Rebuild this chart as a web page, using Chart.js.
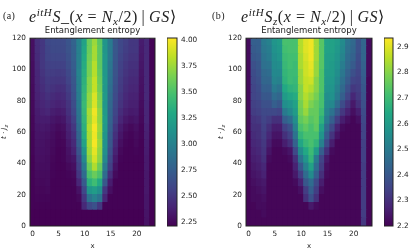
<!DOCTYPE html>
<html>
<head>
<meta charset="utf-8">
<script src="https://cdn.jsdelivr.net/npm/chart.js@4"></script>
<style>
  html, body { margin: 0; background: #fff; overflow: hidden; }
  #page { position: relative; width: 415px; height: 250px; filter: blur(0.4px); }
  canvas { position: absolute; }
  .math { position: absolute; font-family: "Liberation Serif", serif; font-size: 16px; letter-spacing: 0.55px; color: #222; white-space: nowrap; line-height: 20px; }
  .math sup { font-size: 11px; line-height: 0; vertical-align: 6px; }
  .math sub { font-size: 11px; line-height: 0; vertical-align: -3px; }
  .tag { position: absolute; font-family: "Liberation Serif", serif; font-size: 10px; letter-spacing: 0.4px; color: #222; }
  .ylab { position: absolute; font-family: "DejaVu Sans", sans-serif; font-size: 7px; color: #222; transform: rotate(-90deg); transform-origin: center; white-space: nowrap; font-style: italic; }
  .ylab sub { font-size: 5px; line-height: 0; }
</style>
</head>
<body>
<div id="page">
  <div class="tag" style="left:3px;top:10px">(a)</div>
  <div class="math" style="left:29px;top:7px"><i>e<sup>itH</sup>S</i>_(<i>x</i> = <i>N<sub>x</sub></i>/2)&#8201;|&#8201;<i>GS</i>⟩</div>
  <div class="ylab" style="left:-3px;top:128px">t · J<sub>z</sub></div>
  <canvas id="plotA"></canvas>
  <canvas id="barA"></canvas>
  <div class="tag" style="left:212px;top:10px">(b)</div>
  <div class="math" style="left:241px;top:7px"><i>e<sup>itH</sup>S<sub>z</sub></i>(<i>x</i> = <i>N<sub>x</sub></i>/2)&#8201;|&#8201;<i>GS</i>⟩</div>
  <div class="ylab" style="left:214px;top:128px">t · J<sub>z</sub></div>
  <canvas id="plotB"></canvas>
  <canvas id="barB"></canvas>
</div>
<script>
// Axis values
const sites = ['0','1','2','3','4','5','6','7','8','9','10','11','12','13','14','15','16','17','18','19','20','21','22','23'];
const timeStarts = [0,5,10,15,20,25,30,35,40,45,50,55,60,65,70,75,80,85,90,95,100,105,110,115];
const rowSpan = 5;
const timeTicks = [0,20,40,60,80,100,120];
const siteTicks = [0,5,10,15,20];
const ticksBarA = [2.25,2.5,2.75,3,3.25,3.5,3.75,4];
const ticksBarB = [2.2,2.3,2.4,2.5,2.6,2.7,2.8,2.9];

// Panel (a) entropy, one list per time row
const a000 = [2.21,2.21,2.21,2.21,2.21,2.21,2.21,2.21,2.21,2.21,2.21,2.21,2.21,2.21,2.21,2.21,2.21,2.21,2.21,2.21,2.21,2.21,2.3,2.21];
const a005 = [2.21,2.21,2.21,2.21,2.21,2.21,2.21,2.21,2.21,2.21,2.21,2.21,2.21,2.21,2.21,2.21,2.21,2.21,2.21,2.21,2.21,2.21,2.31,2.21];
const a010 = [2.22,2.22,2.22,2.22,2.22,2.22,2.22,2.22,2.22,2.22,2.42,2.6,2.66,2.5,2.22,2.22,2.22,2.22,2.22,2.22,2.22,2.22,2.32,2.21];
const a015 = [2.22,2.23,2.23,2.23,2.22,2.22,2.22,2.22,2.22,2.25,2.5,2.9,3,2.9,2.4,2.22,2.22,2.22,2.22,2.22,2.22,2.22,2.32,2.21];
const a020 = [2.22,2.24,2.24,2.25,2.22,2.22,2.22,2.22,2.22,2.3,2.6,3.15,3.2,3.1,2.5,2.28,2.22,2.22,2.22,2.22,2.22,2.22,2.33,2.21];
const a025 = [2.22,2.25,2.25,2.26,2.22,2.22,2.22,2.22,2.23,2.4,2.72,3.35,3.45,3.3,2.7,2.35,2.22,2.22,2.22,2.22,2.22,2.22,2.33,2.21];
const a030 = [2.22,2.26,2.26,2.26,2.23,2.22,2.22,2.23,2.25,2.5,2.85,3.5,3.6,3.5,2.85,2.45,2.26,2.22,2.22,2.22,2.22,2.22,2.33,2.21];
const a035 = [2.22,2.27,2.27,2.27,2.23,2.22,2.22,2.25,2.28,2.55,2.95,3.6,3.8,3.6,2.95,2.55,2.3,2.22,2.22,2.22,2.22,2.22,2.34,2.21];
const a040 = [2.22,2.28,2.28,2.27,2.24,2.22,2.23,2.28,2.32,2.6,3.05,3.7,3.9,3.7,3.05,2.6,2.34,2.23,2.22,2.22,2.22,2.22,2.34,2.21];
const a045 = [2.23,2.29,2.29,2.28,2.25,2.22,2.23,2.3,2.38,2.68,3.15,3.75,3.95,3.72,3.1,2.65,2.38,2.25,2.22,2.22,2.23,2.22,2.35,2.21];
const a050 = [2.23,2.3,2.3,2.28,2.26,2.23,2.24,2.33,2.42,2.75,3.25,3.78,4,3.75,3.12,2.7,2.42,2.28,2.23,2.22,2.25,2.22,2.36,2.21];
const a055 = [2.23,2.31,2.31,2.3,2.27,2.24,2.26,2.36,2.46,2.8,3.32,3.78,3.98,3.72,3.15,2.72,2.46,2.32,2.25,2.23,2.26,2.23,2.37,2.22];
const a060 = [2.24,2.32,2.33,2.32,2.29,2.26,2.28,2.38,2.5,2.85,3.35,3.8,4,3.75,3.18,2.75,2.5,2.35,2.28,2.25,2.28,2.23,2.38,2.22];
const a065 = [2.24,2.34,2.35,2.35,2.32,2.3,2.32,2.42,2.55,2.9,3.38,3.76,3.95,3.72,3.2,2.78,2.55,2.4,2.33,2.3,2.32,2.25,2.4,2.22];
const a070 = [2.25,2.35,2.38,2.4,2.36,2.34,2.36,2.46,2.6,2.92,3.4,3.78,3.98,3.72,3.18,2.8,2.58,2.44,2.37,2.34,2.35,2.26,2.4,2.22];
const a075 = [2.25,2.37,2.4,2.43,2.4,2.38,2.4,2.48,2.63,2.95,3.42,3.72,3.92,3.68,3.16,2.82,2.6,2.48,2.4,2.37,2.37,2.27,2.41,2.22];
const a080 = [2.26,2.38,2.42,2.46,2.43,2.41,2.43,2.51,2.66,2.97,3.4,3.72,3.92,3.66,3.18,2.84,2.62,2.5,2.42,2.38,2.38,2.28,2.42,2.22];
const a085 = [2.26,2.39,2.44,2.49,2.47,2.45,2.46,2.54,2.68,2.99,3.38,3.68,3.86,3.62,3.16,2.86,2.64,2.52,2.44,2.4,2.4,2.29,2.42,2.22];
const a090 = [2.27,2.4,2.46,2.51,2.5,2.49,2.5,2.57,2.7,3,3.36,3.68,3.86,3.6,3.18,2.88,2.66,2.53,2.46,2.42,2.42,2.3,2.42,2.22];
const a095 = [2.27,2.41,2.48,2.53,2.53,2.52,2.53,2.6,2.72,3.02,3.34,3.64,3.82,3.58,3.16,2.9,2.67,2.55,2.48,2.44,2.44,2.31,2.42,2.22];
const a100 = [2.27,2.42,2.5,2.55,2.56,2.56,2.56,2.63,2.74,3,3.32,3.64,3.82,3.56,3.16,2.92,2.68,2.56,2.5,2.46,2.46,2.32,2.42,2.22];
const a105 = [2.28,2.43,2.5,2.57,2.59,2.59,2.59,2.65,2.76,3,3.3,3.62,3.78,3.56,3.16,2.94,2.69,2.58,2.52,2.48,2.48,2.33,2.42,2.22];
const a110 = [2.28,2.44,2.5,2.58,2.61,2.61,2.61,2.67,2.77,3,3.28,3.6,3.78,3.56,3.15,2.95,2.7,2.6,2.54,2.5,2.5,2.34,2.42,2.22];
const a115 = [2.28,2.45,2.5,2.6,2.62,2.62,2.62,2.68,2.78,3,3.25,3.6,3.75,3.55,3.15,2.95,2.7,2.6,2.55,2.5,2.5,2.35,2.42,2.22];

// Panel (b) entropy, one list per time row
const b000 = [2.21,2.21,2.21,2.21,2.21,2.21,2.21,2.21,2.21,2.21,2.21,2.21,2.21,2.21,2.21,2.21,2.21,2.21,2.21,2.21,2.21,2.21,2.32,2.21];
const b005 = [2.21,2.21,2.21,2.22,2.21,2.21,2.21,2.21,2.21,2.21,2.21,2.21,2.21,2.21,2.21,2.21,2.21,2.21,2.21,2.21,2.21,2.21,2.33,2.21];
const b010 = [2.21,2.21,2.22,2.22,2.21,2.21,2.21,2.21,2.21,2.21,2.21,2.21,2.25,2.22,2.21,2.21,2.21,2.21,2.21,2.21,2.21,2.21,2.33,2.21];
const b015 = [2.21,2.22,2.22,2.23,2.21,2.21,2.21,2.21,2.21,2.21,2.21,2.3,2.38,2.3,2.21,2.21,2.21,2.21,2.21,2.21,2.21,2.21,2.33,2.21];
const b020 = [2.21,2.22,2.23,2.24,2.21,2.21,2.21,2.21,2.21,2.21,2.23,2.33,2.42,2.33,2.23,2.21,2.21,2.21,2.21,2.21,2.21,2.21,2.33,2.21];
const b025 = [2.21,2.23,2.24,2.25,2.21,2.21,2.21,2.21,2.21,2.22,2.27,2.4,2.46,2.36,2.26,2.21,2.21,2.21,2.21,2.21,2.21,2.21,2.33,2.21];
const b030 = [2.21,2.24,2.25,2.27,2.21,2.21,2.21,2.21,2.21,2.25,2.33,2.46,2.55,2.42,2.3,2.22,2.21,2.21,2.21,2.21,2.21,2.21,2.33,2.21];
const b035 = [2.21,2.25,2.26,2.28,2.21,2.21,2.21,2.21,2.21,2.27,2.4,2.52,2.62,2.46,2.33,2.23,2.21,2.21,2.21,2.21,2.21,2.21,2.33,2.21];
const b040 = [2.21,2.26,2.27,2.3,2.22,2.21,2.21,2.21,2.22,2.3,2.48,2.58,2.68,2.5,2.35,2.25,2.21,2.21,2.21,2.21,2.21,2.21,2.34,2.21];
const b045 = [2.21,2.27,2.28,2.31,2.24,2.21,2.21,2.22,2.24,2.36,2.55,2.64,2.7,2.6,2.42,2.3,2.22,2.21,2.21,2.21,2.21,2.21,2.34,2.21];
const b050 = [2.21,2.28,2.29,2.32,2.26,2.22,2.22,2.26,2.3,2.43,2.63,2.69,2.72,2.68,2.52,2.36,2.26,2.21,2.21,2.21,2.21,2.21,2.34,2.21];
const b055 = [2.21,2.29,2.3,2.33,2.28,2.24,2.24,2.3,2.34,2.48,2.68,2.72,2.72,2.72,2.58,2.41,2.31,2.24,2.21,2.21,2.21,2.21,2.35,2.21];
const b060 = [2.22,2.3,2.3,2.34,2.3,2.26,2.26,2.34,2.38,2.52,2.72,2.75,2.72,2.75,2.62,2.45,2.36,2.27,2.22,2.21,2.21,2.21,2.35,2.21];
const b065 = [2.22,2.31,2.32,2.35,2.33,2.3,2.3,2.42,2.46,2.56,2.75,2.78,2.74,2.76,2.67,2.5,2.42,2.33,2.26,2.23,2.21,2.23,2.36,2.21];
const b070 = [2.22,2.33,2.34,2.36,2.36,2.36,2.35,2.5,2.54,2.6,2.77,2.82,2.76,2.76,2.7,2.53,2.48,2.4,2.32,2.27,2.23,2.26,2.37,2.21];
const b075 = [2.22,2.34,2.35,2.38,2.38,2.42,2.4,2.56,2.58,2.62,2.78,2.84,2.79,2.76,2.72,2.55,2.54,2.46,2.37,2.31,2.25,2.3,2.38,2.21];
const b080 = [2.22,2.35,2.36,2.4,2.4,2.46,2.44,2.6,2.63,2.65,2.8,2.85,2.82,2.78,2.72,2.56,2.57,2.5,2.42,2.35,2.28,2.32,2.39,2.21];
const b085 = [2.22,2.35,2.37,2.42,2.42,2.5,2.48,2.64,2.67,2.68,2.8,2.87,2.85,2.8,2.73,2.58,2.58,2.52,2.45,2.38,2.32,2.33,2.4,2.21];
const b090 = [2.22,2.36,2.38,2.44,2.44,2.53,2.52,2.67,2.7,2.69,2.82,2.87,2.88,2.8,2.73,2.59,2.59,2.54,2.47,2.41,2.35,2.34,2.41,2.21];
const b095 = [2.22,2.37,2.39,2.45,2.46,2.54,2.54,2.68,2.7,2.7,2.82,2.88,2.9,2.82,2.73,2.6,2.6,2.56,2.49,2.43,2.38,2.35,2.42,2.22];
const b100 = [2.22,2.38,2.4,2.47,2.48,2.55,2.56,2.69,2.71,2.7,2.84,2.88,2.91,2.82,2.74,2.61,2.6,2.57,2.51,2.45,2.41,2.36,2.43,2.22];
const b105 = [2.22,2.4,2.41,2.48,2.5,2.56,2.58,2.7,2.71,2.71,2.84,2.89,2.92,2.83,2.74,2.61,2.61,2.58,2.53,2.46,2.43,2.37,2.44,2.22];
const b110 = [2.22,2.41,2.42,2.49,2.51,2.57,2.59,2.71,2.72,2.72,2.85,2.9,2.92,2.83,2.74,2.62,2.62,2.59,2.54,2.47,2.44,2.38,2.44,2.22];
const b115 = [2.22,2.42,2.42,2.5,2.52,2.58,2.6,2.72,2.72,2.72,2.85,2.9,2.92,2.83,2.74,2.62,2.62,2.6,2.55,2.48,2.45,2.38,2.44,2.22];

const rowsA = [a000,a005,a010,a015,a020,a025,a030,a035,a040,a045,a050,a055,a060,a065,a070,a075,a080,a085,a090,a095,a100,a105,a110,a115];
const rowsB = [b000,b005,b010,b015,b020,b025,b030,b035,b040,b045,b050,b055,b060,b065,b070,b075,b080,b085,b090,b095,b100,b105,b110,b115];

const rangeA = [2.21, 4.02];
const rangeB = [2.2, 2.935];

// Viridis samples, low to high
const viridis = ['#440154','#482475','#414487','#355f8d','#2a788e','#21918c','#22a884','#44bf70','#7ad151','#bddf26','#fde725'];

function hexToRgb(hex) {
  return [1, 3, 5].map(i => parseInt(hex.slice(i, i + 2), 16));
}

function colorFor(value, range) {
  const t = Math.min(1, Math.max(0, (value - range[0]) / (range[1] - range[0])));
  const pos = t * (viridis.length - 1);
  const i = Math.min(viridis.length - 2, Math.floor(pos));
  const a = hexToRgb(viridis[i]);
  const b = hexToRgb(viridis[i + 1]);
  const f = pos - i;
  return 'rgb(' + a.map((v, k) => Math.round(v + (b[k] - v) * f)).join(',') + ')';
}

Chart.defaults.font.family = '"DejaVu Sans", sans-serif';
Chart.defaults.font.size = 7.3;
Chart.defaults.color = '#222';
Chart.defaults.animation = false;

const spines = {
  id: 'spines',
  afterDraw(chart) {
    const a = chart.chartArea;
    const ctx = chart.ctx;
    ctx.save();
    ctx.strokeStyle = '#222';
    ctx.lineWidth = 1;
    ctx.strokeRect(a.left, a.top, a.right - a.left, a.bottom - a.top);
    ctx.restore();
  }
};

function place(canvas, left, top, width, height) {
  canvas.style.left = left + 'px';
  canvas.style.top = top + 'px';
  canvas.style.width = width + 'px';
  canvas.style.height = height + 'px';
  canvas.width = width;
  canvas.height = height;
}

function drawPlot(id, rows, range, left, width) {
  const canvas = document.getElementById(id);
  place(canvas, left, 0, width, 250);
  const datasets = rows.map((row, r) => ({
    data: row.map(() => [timeStarts[r], timeStarts[r] + rowSpan]),
    backgroundColor: row.map(v => colorFor(v, range)),
    borderWidth: 0,
    inflateAmount: 0.6, // hides seams between cells
    barPercentage: 1,
    categoryPercentage: 1
  }));
  return new Chart(canvas, {
    type: 'bar',
    data: { labels: sites, datasets: datasets },
    plugins: [spines],
    options: {
      responsive: false,
      layout: { padding: { left: 0, right: 3, top: 0, bottom: 0 } },
      plugins: {
        legend: { display: false },
        tooltip: { enabled: false },
        title: { display: true, fullSize: false, text: 'Entanglement entropy', font: { size: 8.5, weight: 'normal' }, color: '#222', padding: { top: 26, bottom: 2 } }
      },
      scales: {
        x: {
          stacked: true,
          grid: { display: false, drawTicks: true, tickLength: 2.5, tickColor: '#333' },
          border: { display: false },
          title: { display: true, text: 'x', font: { size: 7 }, color: '#222', padding: { top: 2, bottom: 0 } },
          ticks: { maxRotation: 0, autoSkip: false, padding: 1.5 },
          afterBuildTicks: s => { s.ticks = s.ticks.filter(t => siteTicks.includes(t.value)); },
          afterFit: s => { s.height = 24; }
        },
        y: {
          min: 0,
          max: 120,
          grid: { display: false, tickLength: 2.5, tickColor: '#333' },
          border: { display: false },
          ticks: { padding: 1.5 },
          afterBuildTicks: s => { s.ticks = timeTicks.map(v => ({ value: v })); },
          afterFit: s => { s.width = 30; }
        }
      }
    }
  });
}

function drawBar(id, range, ticks, left, width) {
  const canvas = document.getElementById(id);
  place(canvas, left, 0, width, 250);
  return new Chart(canvas, {
    type: 'bar',
    data: {
      labels: [''],
      datasets: [{
        data: [range],
        barPercentage: 1,
        categoryPercentage: 1,
        borderWidth: 0,
        backgroundColor(c) {
          const a = c.chart.chartArea;
          if (!a) return viridis[0];
          const g = c.chart.ctx.createLinearGradient(0, a.bottom, 0, a.top);
          viridis.forEach((col, i) => g.addColorStop(i / (viridis.length - 1), col));
          return g;
        }
      }]
    },
    plugins: [spines],
    options: {
      responsive: false,
      layout: { padding: { left: 0, right: 0, top: 38, bottom: 24 } },
      plugins: { legend: { display: false }, tooltip: { enabled: false } },
      scales: {
        x: { display: false },
        y: {
          position: 'right',
          min: range[0],
          max: range[1],
          grid: { display: false, tickLength: 2.5, tickColor: '#333' },
          border: { display: false },
          ticks: { padding: 1.5, callback: v => (ticks === ticksBarA ? v.toFixed(2) : v.toFixed(1)) },
          afterBuildTicks: s => { s.ticks = ticks.map(v => ({ value: v })); },
          afterFit: s => { s.width = 22; }
        }
      }
    }
  });
}

drawPlot('plotA', rowsA, rangeA, 0, 158);
drawBar('barA', rangeA, ticksBarA, 167, 32);
drawPlot('plotB', rowsB, rangeB, 216, 159);
drawBar('barB', rangeB, ticksBarB, 384, 31);
</script>
</body>
</html>
